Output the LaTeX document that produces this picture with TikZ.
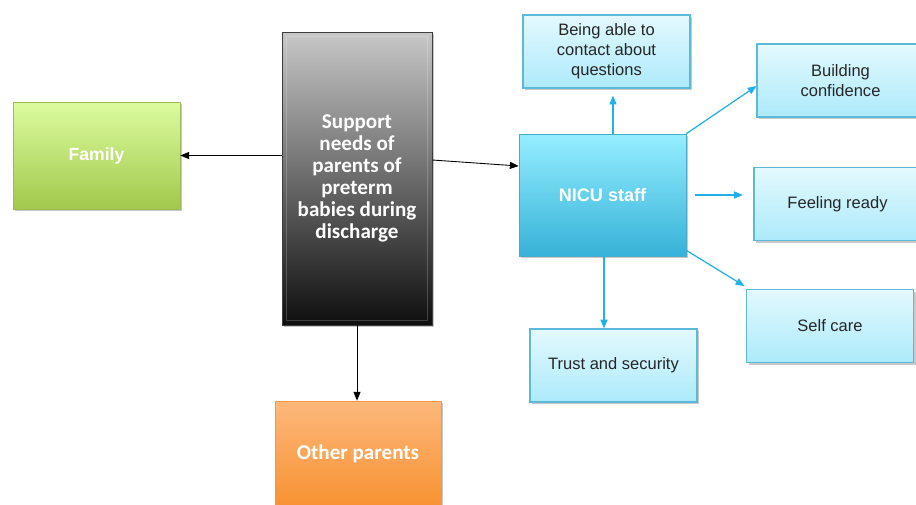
\documentclass[tikz,border=0pt]{standalone}
\usepackage{fontspec}
\setmainfont{Liberation Sans}
\newfontfamily\calib{Carlito}
\usepackage{xcolor}
\definecolor{GreyTop}{HTML}{C8C8C8}
\definecolor{GreyBot}{HTML}{0E0E0E}
\definecolor{LimeTop}{HTML}{DCFC9F}
\definecolor{LimeBot}{HTML}{A2C84C}
\definecolor{LimeEdge}{HTML}{9BBB59}
\definecolor{PeachTop}{HTML}{FDB87C}
\definecolor{PeachBot}{HTML}{F7902E}
\definecolor{PeachEdge}{HTML}{F79646}
\definecolor{AquaTop}{HTML}{95EEFF}
\definecolor{AquaBot}{HTML}{36B2D8}
\definecolor{AquaEdge}{HTML}{4BACC6}
\definecolor{PaleTop}{HTML}{E3F9FD}
\definecolor{PaleBot}{HTML}{ADEAFB}
\definecolor{PaleEdge}{HTML}{5DB9D9}
\definecolor{ArrowBlue}{HTML}{22B0EA}
\definecolor{TextGrey}{HTML}{262626}
\usetikzlibrary{calc}
\usetikzlibrary{arrows.meta,shadows}
\tikzset{>={Triangle[length=5pt,width=4pt]}}
\tikzset{
	boxshadow/.style={drop shadow={shadow xshift=1.2pt,shadow yshift=-1.2pt,opacity=0.35,fill=black!60}},
	mainbox/.style={boxshadow,align=center,text=white,font=\bfseries,inner sep=2pt},
	subbox/.style={boxshadow,draw=PaleEdge,line width=0.6pt,top color=PaleTop,bottom color=PaleBot,
		minimum width=3.34cm,minimum height=1.46cm,align=center,text=TextGrey,
		font=\fontsize{9.4}{11.3}\selectfont,inner sep=2pt},
	blackarr/.style={->,black,line width=0.5pt},
	bluearr/.style={->,ArrowBlue,line width=0.7pt}
}

\begin{document}
\begin{tikzpicture}[x=0.02cm,y=-0.02cm]
	
	\clip (0,0) rectangle (916,504);
	\fill[white] (0,0) rectangle (916,504);
	
	%% CENTRE BOX
	\node[mainbox,top color=GreyTop,bottom color=GreyBot,draw=GreyBot!80,
		minimum width=3cm,minimum height=5.86cm,
		font=\calib\bfseries\fontsize{12}{12.5}\selectfont] (Support) at (357,178.5)
		{Support\\needs of\\parents of\\preterm\\babies during\\discharge};
	\draw[white,opacity=0.2,line width=0.6pt] ([shift={(3pt,-3pt)}]Support.north west) rectangle ([shift={(-3pt,3pt)}]Support.south east);
	
	%% LEFT AND BOTTOM
	\node[mainbox,draw=LimeEdge,top color=LimeTop,bottom color=LimeBot,
		minimum width=3.34cm,minimum height=2.14cm,font=\bfseries\fontsize{10}{12}\selectfont] (Family) at (96.5,155.5) {Family};
	\node[mainbox,draw=PeachEdge,top color=PeachTop,bottom color=PeachBot,
		minimum width=3.32cm,minimum height=2.2cm,font=\calib\bfseries\fontsize{12}{13}\selectfont] (Other) at (358,456) {\raisebox{4pt}{Other parents}};
	
	%% NICU STAFF
	\node[mainbox,draw=AquaEdge,top color=AquaTop,bottom color=AquaBot,
		minimum width=3.34cm,minimum height=2.44cm,font=\bfseries\fontsize{10.3}{12}\selectfont] (NICU) at (602.5,195) {NICU staff};
	
	%% NEEDS MET BY NICU STAFF
	\node[subbox] (Contact) at (606.5,51.5) {Being able to\\contact about\\questions};
	\node[subbox] (Confidence) at (840.5,80.5) {Building\\confidence};
	\node[subbox] (Ready) at (837.5,204) {Feeling ready};
	\node[subbox] (SelfCare) at (830,326) {Self care};
	\node[subbox] (Trust) at (613.5,365.5) {Trust and security};
	
	%% BLACK ARROWS
	\draw[blackarr] (Support.west |- Family.east) -- (Family.east);
	\draw[blackarr] ([yshift=0.37cm]Support.east) -- ([yshift=0.58cm]NICU.west);
	\draw[blackarr] (Support.south) -- (Support.south |- Other.north);
	
	%% BLUE ARROWS
	\draw[bluearr,shorten >=4pt] ([xshift=0.21cm]NICU.north) -- ([xshift=0.21cm]NICU.north |- Contact.south);
	\draw[bluearr] (NICU.north east) -- ([yshift=-0.11cm]Confidence.west);
	\draw[bluearr,shorten <=5pt,shorten >=6pt] (NICU.east) -- (NICU.east -| Ready.west);
	\draw[bluearr,shorten >=1pt] ([yshift=0.12cm]NICU.south east) -- ([yshift=0.04cm]SelfCare.north west);
	\draw[bluearr] ([xshift=0.03cm]NICU.south) -- ([xshift=0.03cm]NICU.south |- Trust.north);
	
\end{tikzpicture}
\end{document}
